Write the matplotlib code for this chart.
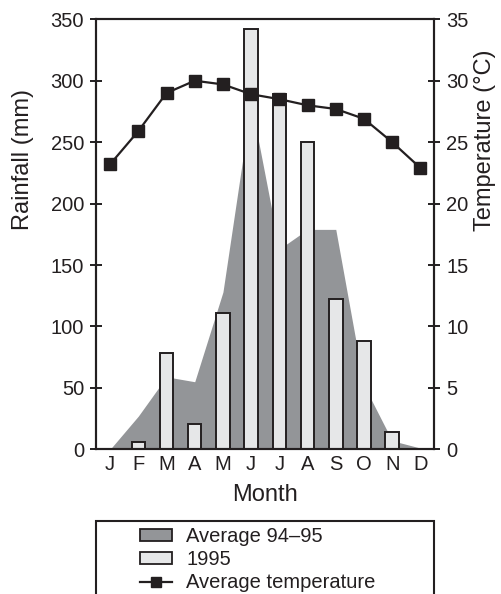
import numpy as np
import matplotlib
matplotlib.use('Agg')
import matplotlib.pyplot as plt
from matplotlib.patches import Patch, Rectangle
from matplotlib.lines import Line2D

plt.rcParams['font.family'] = ['Liberation Sans', 'DejaVu Sans']

# data
months = ['J', 'F', 'M', 'A', 'M', 'J', 'J', 'A', 'S', 'O', 'N', 'D']
rain_avg = [0, 27, 59, 55, 128, 282, 163, 179, 179, 52, 7, 1]       # Average 94-95 (mm)
rain_1995 = [0, 6, 78, 21, 111, 342, 289, 250, 122, 88, 14, 0]      # 1995 (mm)
temp_avg = [23.2, 25.9, 29.0, 30.0, 29.7, 28.9, 28.5, 28.0, 27.7, 26.9, 25.0, 22.9]  # deg C

dark = '#231f20'
area_col = '#939598'
bar_col = '#e6e7e8'

W, H = 502, 594
fig = plt.figure(figsize=(W / 100, H / 100), dpi=100)
ax = fig.add_axes([96 / W, 1 - 449.3 / H, 338.5 / W, 430 / H])
x = np.arange(len(months))

ax.fill_between(x, rain_avg, color=area_col, linewidth=0, zorder=1)
ax.bar(x, rain_1995, width=0.48, color=bar_col, edgecolor=dark, linewidth=1.4, zorder=2)

ax.set_xlim(-0.5, 11.5)
ax.set_ylim(0, 350)
ax.set_yticks(np.arange(0, 351, 50))
ax.set_xticks(x)
ax.set_xticklabels(months)
ax.tick_params(axis='x', length=0, pad=4, labelsize=14.5, colors=dark)
ax.tick_params(axis='y', direction='inout', length=9, width=1.4, pad=4, labelsize=14.5, colors=dark)
ax.set_ylabel('Rainfall (mm)', fontsize=17, color=dark)
ax.yaxis.set_label_coords(-0.183, 0.673)
ax.set_xlabel('Month', fontsize=17, color=dark)
ax.xaxis.set_label_coords(0.5, -0.081)

ax2 = ax.twinx()
ax2.plot(x, temp_avg, color=dark, linewidth=1.6, marker='s', markersize=9,
         markerfacecolor=dark, markeredgecolor=dark, zorder=3)
ax2.set_ylim(0, 35)
ax2.set_yticks(np.arange(0, 36, 5))
ax2.tick_params(axis='y', direction='inout', length=9, width=1.4, pad=4, labelsize=14.5, colors=dark)
ax2.set_ylabel('Temperature (°C)', fontsize=17, color=dark)
ax2.yaxis.set_label_coords(1.117, 0.719)

for a in (ax, ax2):
    for s in a.spines.values():
        s.set_linewidth(1.5)
        s.set_color(dark)

# legend box, runs off the bottom edge
box = Rectangle((96 / W, -0.05), 338 / W, (1 - 521 / H) + 0.05, transform=fig.transFigure,
                facecolor='none', edgecolor=dark, linewidth=1.5, clip_on=False)
fig.add_artist(box)

handles = [
    Patch(facecolor=area_col, edgecolor=dark, linewidth=1.3),
    Patch(facecolor=bar_col, edgecolor=dark, linewidth=1.3),
    Line2D([0], [0], color=dark, linewidth=1.6, marker='s', markersize=7),
]
labels = ['Average 94–95', '1995', 'Average temperature']
fig.legend(handles, labels, loc='upper left', bbox_to_anchor=(130 / W, 1 - 517 / H),
           frameon=False, fontsize=14.5, borderpad=0, labelspacing=0.2,
           handlelength=1.6, handleheight=0.55, handletextpad=0.7,
           labelcolor=dark)

fig.savefig('out.png', dpi=100)
